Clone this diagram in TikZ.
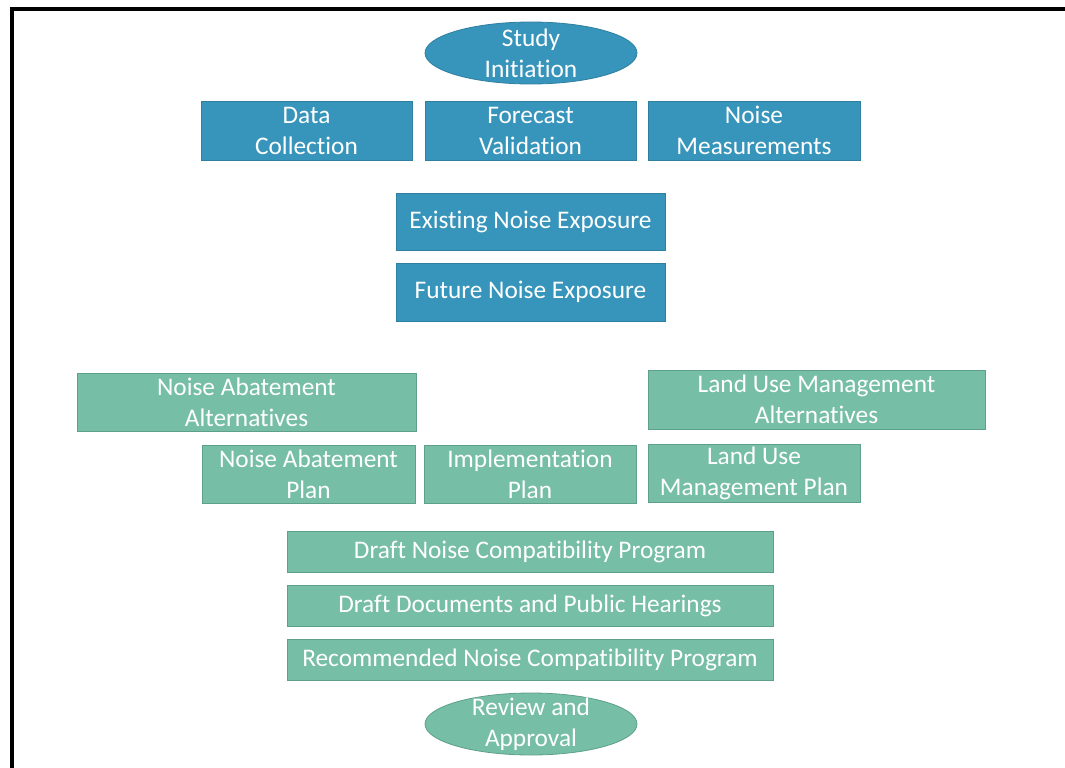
\documentclass[tikz,border=0pt]{standalone}
\usepackage{fontspec}
\setmainfont{Carlito}[Ligatures={NoCommon}, RawFeature={-liga}]
\usetikzlibrary{shapes.geometric}
\definecolor{stepBlue}{HTML}{3795BB}
\definecolor{stepBlueEdge}{HTML}{2F7FA1}
\definecolor{stepGreen}{HTML}{76BEA6}
\definecolor{stepGreenEdge}{HTML}{5EA08A}
\tikzset{
    % common
    boxText/.style={text=white, align=center, inner sep=0pt,
        font=\fontsize{19}{23.25}\selectfont},
    % blue steps
    blueBox/.style={boxText, rectangle, fill=stepBlue, draw=stepBlueEdge, line width=0.6pt},
    blueOval/.style={boxText, ellipse, inner ysep=-6pt, fill=stepBlue, draw=stepBlueEdge, line width=0.6pt},
    % green steps
    greenBox/.style={boxText, rectangle, fill=stepGreen, draw=stepGreenEdge, line width=0.6pt},
    greenOval/.style={boxText, ellipse, inner ysep=-6pt, fill=stepGreen, draw=stepGreenEdge, line width=0.6pt},
    % sizes (in px of the layout)
    size/.style 2 args={minimum width={#1*0.75pt}, minimum height={#2*0.75pt}}
}
\begin{document}
\begin{tikzpicture}[x=0.75pt, y=-0.75pt]
    \clip (0,0) rectangle (1065,768);
    \fill[white] (0,0) rectangle (1065,768);

    % outer frame
    \draw[line width=3pt] (12,800) -- (12,9) -- (1100,9);

    % study start
    \node[blueOval, size={212}{62}] (start) at (531,53) {Study\\Initiation};
    \node[blueBox, size={211}{59}] (data) at (306.5,130.5) {Data\\Collection};
    \node[blueBox, size={211}{59}] (forecast) at (530.5,130.5) {Forecast\\Validation};
    \node[blueBox, size={212}{59}] (measure) at (754,130.5) {Noise\\Measurements};

    % exposure
    \node[blueBox, size={269}{57}] (existing) at (530.5,221.5) {Existing Noise Exposure};
    \node[blueBox, size={269}{58}] (future) at (530.5,292) {Future Noise Exposure};

    % alternatives and plans
    \node[greenBox, size={339}{58}] (abateAlt) at (246.5,402) {Noise Abatement\\Alternatives};
    \node[greenBox, size={337}{59}] (landAlt) at (816.5,399.5) {Land Use Management\\Alternatives};
    \node[greenBox, size={213}{58}] (abatePlan) at (308.5,474) {Noise Abatement\\Plan};
    \node[greenBox, size={212}{58}] (implPlan) at (530,474) {Implementation\\Plan};
    \node[greenBox, size={212}{58}] (landPlan) at (754,473) {Land Use\\Management Plan};

    % program
    \node[greenBox, size={486}{41}] (draftNcp) at (530,551.5) {Draft Noise Compatibility Program};
    \node[greenBox, size={486}{41}] (draftDocs) at (530,605.5) {Draft Documents and Public Hearings};
    \node[greenBox, size={486}{41}] (recNcp) at (530,659.5) {Recommended Noise Compatibility Program};
    \node[greenOval, size={212}{62}] (review) at (531,724) {Review and\\Approval};
\end{tikzpicture}
\end{document}
